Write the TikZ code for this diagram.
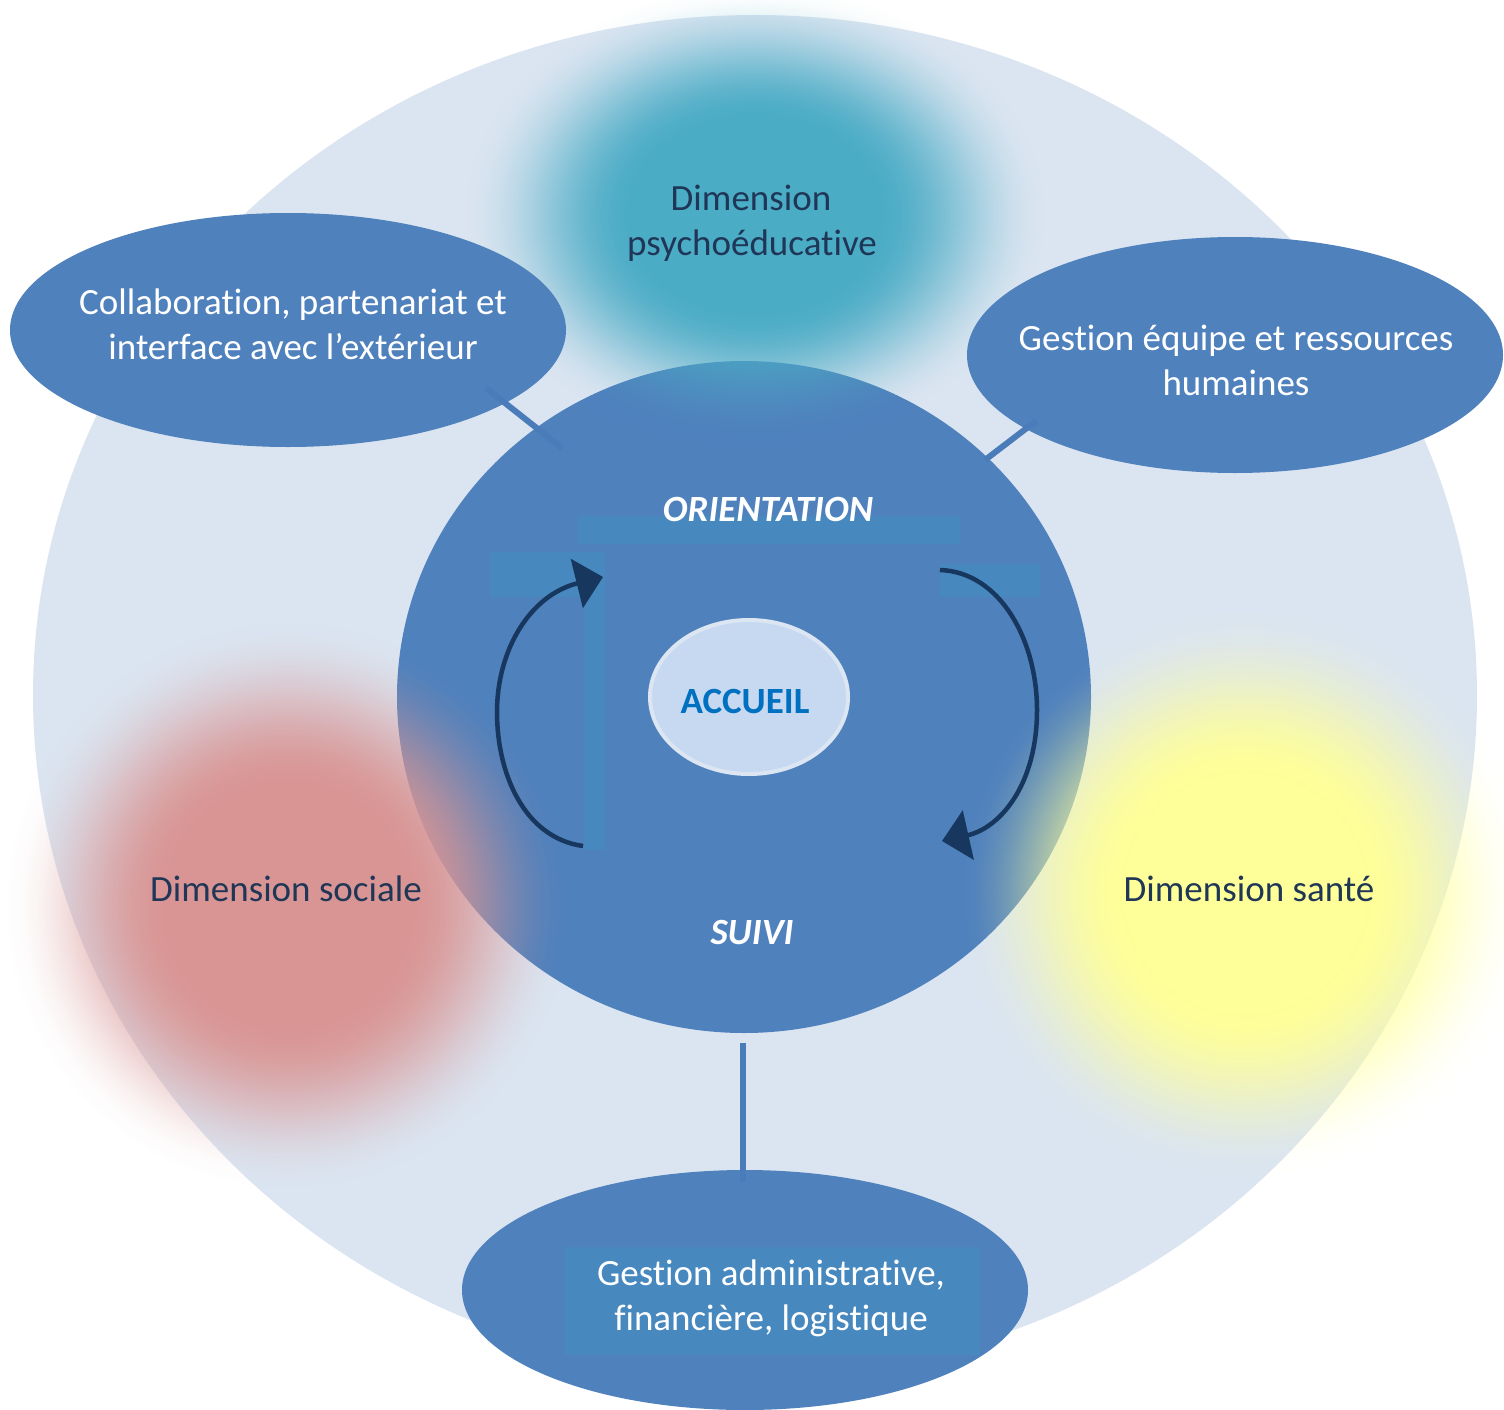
\documentclass[tikz,border=0pt]{standalone}
\usepackage{fontspec}
\setmainfont{Carlito}[Ligatures=NoCommon]
\usetikzlibrary{shapes.geometric,arrows.meta,fadings}
\definecolor{lightbg}{HTML}{DBE5F1}
\definecolor{mainblue}{HTML}{4F81BD}
\definecolor{artif}{HTML}{4788BF}
\definecolor{linkblue}{HTML}{4A7CBA}
\definecolor{navy}{HTML}{17375E}
\definecolor{dimtext}{HTML}{1F3656}
\definecolor{tealblob}{HTML}{4BACC6}
\definecolor{redblob}{HTML}{D99594}
\definecolor{yellowblob}{HTML}{FFFF99}
\definecolor{accfill}{HTML}{C6D9F1}
\definecolor{accborder}{HTML}{DCE6F2}
\definecolor{acctext}{HTML}{0070C0}
% soft radial mask: solid core, smoothstep fall-off reaching zero at 25bp (= path edge)
\pgfdeclareradialshading{blobshade}{\pgfpointorigin}{rgb(0bp)=(1,1,1); rgb(10.5bp)=(1,1,1); rgb(11.95bp)=(.972,.972,.972); rgb(13.4bp)=(.896,.896,.896); rgb(14.85bp)=(.784,.784,.784); rgb(16.3bp)=(.648,.648,.648); rgb(17.75bp)=(.5,.5,.5); rgb(19.2bp)=(.352,.352,.352); rgb(20.65bp)=(.216,.216,.216); rgb(22.1bp)=(.104,.104,.104); rgb(23.55bp)=(.028,.028,.028); rgb(25bp)=(0,0,0); rgb(50bp)=(0,0,0)}
\pgfdeclarefading{blobfade}{\pgfuseshading{blobshade}}
\begin{document}
\begin{tikzpicture}[x=1pt,y=-1pt,
  bluebox/.style={ellipse, fill=mainblue, draw=none, inner sep=0pt},
  whitetext/.style={font=\fontsize{37}{45}\selectfont, text=white, anchor=base, inner sep=0pt},
  dimlabel/.style={font=\fontsize{37}{45}\selectfont, text=dimtext, anchor=base, inner sep=0pt},
  cyclelabel/.style={font=\fontsize{37}{45}\selectfont\bfseries\itshape, text=white, anchor=base, inner sep=0pt},
  link/.style={draw=linkblue, line width=6pt},
  cyclearrow/.style={draw=navy, line width=4.5pt, -{Triangle[length=27pt,width=50pt]}},
  patch/.style={fill=artif, draw=none},
  blob/.style={fill=#1, path fading=blobfade}
]
\path[use as bounding box, fill=white] (0,0) rectangle (1504,1410);
\clip (0,0) rectangle (1504,1410);

% big light disc
\fill[lightbg] (755,695) ellipse [x radius=722, y radius=680];

% central circle
\node[bluebox, minimum width=694pt, minimum height=672pt] (cc) at (744,697) {};
\fill[patch] (578,516) rectangle (960,544);
\fill[patch] (490,552) rectangle (605,597);
\fill[patch] (584,597) rectangle (605,850);
\fill[patch] (940,564) rectangle (1040,597);

% soft coloured dimensions
\path[blob=tealblob] (755,215) ellipse [x radius=290, y radius=228];
\path[blob=redblob] (288,905) ellipse [x radius=282, y radius=282];
\path[blob=yellowblob] (1245,893) ellipse [x radius=285, y radius=282];

% outer ellipses
\node[bluebox, minimum width=556pt, minimum height=234pt] (collab) at (288,330) {};
\node[bluebox, minimum width=536pt, minimum height=236pt] (rh) at (1235,355) {};
\node[bluebox, minimum width=566pt, minimum height=240pt] (admin) at (745,1290) {};
\fill[patch] (565,1247) rectangle (980,1355);

% connectors
\coordinate (c1a) at (486,388); \coordinate (c1b) at (562,448);
\coordinate (c2a) at (1036,421); \coordinate (c2b) at (985,460);
\coordinate (c3a) at (743,1043); \coordinate (c3b) at (743,1182);
\draw[link] (c1a) -- (c1b);
\draw[link] (c2a) -- (c2b);
\draw[link] (c3a) -- (c3b);

% cycle arrows
\coordinate (la) at (583,846); \coordinate (lm) at (497,712); \coordinate (lb) at (603,577);
\coordinate (ra) at (940,570); \coordinate (rm) at (1037,710); \coordinate (rb) at (942,841);
\draw[cyclearrow] (la) .. controls (525,838) and (497,775) .. (lm) .. controls (497,650) and (530,595) .. (lb);
\draw[cyclearrow] (ra) .. controls (1000,572) and (1037,640) .. (rm) .. controls (1037,785) and (1000,828) .. (rb);

% accueil
\node[ellipse, fill=accfill, draw=accborder, line width=4pt, minimum width=198pt, minimum height=154pt, inner sep=0pt] (acc) at (749,697) {};
\node[font=\fontsize{37}{45}\selectfont\bfseries, text=acctext, anchor=base, inner sep=0pt] (acct) at (745,713) {ACCUEIL};

% texts
\node[whitetext] (t1) at (293,314) {Collaboration, partenariat et};
\node[whitetext] (t2) at (293,359) {interface avec l’extérieur};
\node[whitetext] (t3) at (1236,350) {Gestion équipe et ressources};
\node[whitetext] (t4) at (1236,395) {humaines};
\node[whitetext] (t5) at (771,1285) {Gestion administrative,};
\node[whitetext] (t6) at (771,1330) {financière, logistique};
\node[dimlabel] (d1) at (751,210) {Dimension};
\node[dimlabel] (d2) at (752,255) {psychoéducative};
\node[dimlabel] (d3) at (286,901) {Dimension sociale};
\node[dimlabel] (d4) at (1249,901) {Dimension santé};
\node[cyclelabel] (o1) at (768,521) {ORIENTATION};
\node[cyclelabel] (o2) at (752,944) {SUIVI};
\end{tikzpicture}
\end{document}
